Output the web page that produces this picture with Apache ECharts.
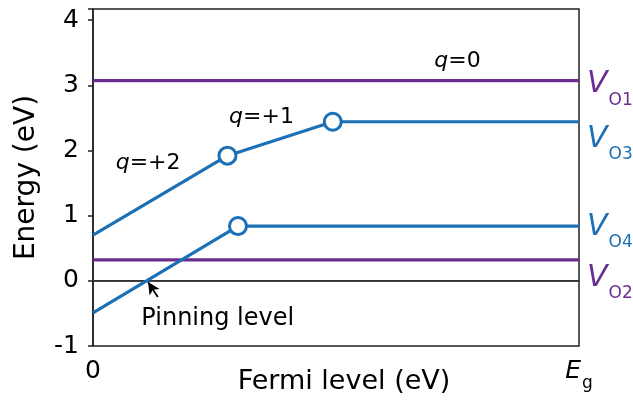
<!DOCTYPE html>
<html>
<head>
<meta charset="utf-8">
<script src="https://cdn.jsdelivr.net/npm/echarts@6/dist/echarts.min.js"></script>
<style>html,body{margin:0;padding:0;background:#fff;}#c{width:633px;height:400px;}</style>
</head>
<body>
<div id="c"></div>
<script>
// ---- data ----
var Eg = 3.0;                       // band gap end of Fermi-level axis (eV)
var xTicks = [0, Eg];               // shown x tick labels
var yTicks = [-1, 0, 1, 2, 3, 4];   // shown y tick labels
var VO1 = [[0, 3.07], [Eg, 3.07]];
var VO2 = [[0, 0.32], [Eg, 0.32]];
var VO3 = [[0, 0.70], [0.83, 1.92], [1.48, 2.44], [Eg, 2.44]];
var VO4 = [[0, -0.49], [0.895, 0.84], [Eg, 0.84]];
var zeroLine = [[0, 0], [Eg, 0]];
var chargeLabels = [
  { name: '+2', x: 0.34, y: 1.80 },
  { name: '+1', x: 1.04, y: 2.51 },
  { name: '0',  x: 2.25, y: 3.37 }
];
var pinning = { text: 'Pinning level', x: 0.77, y: -0.58, arrowFrom: [0.40, -0.25], arrowTo: [0.34, -0.02] };

var purple = '#6B2D90';
var blue = '#1B70B6';
var font = 'DejaVu Sans';

function vLabel(sub, color, off) {
  return {
    show: true,
    distance: 8,
    offset: off,
    formatter: '{v|V}{s|' + sub + '}',
    rich: {
      v: { fontFamily: font, fontSize: 30, fontStyle: 'italic', color: color, lineHeight: 30, verticalAlign: 'top' },
      s: { fontFamily: font, fontSize: 17, color: color, lineHeight: 17, padding: [22, 0, 0, 1], verticalAlign: 'top' }
    }
  };
}
function interiorSymbol(len) {
  return function (val, params) {
    return (params.dataIndex > 0 && params.dataIndex < len - 1) ? 'circle' : 'none';
  };
}

var chart = echarts.init(document.getElementById('c'), null, { renderer: 'canvas' });
chart.setOption({
  animation: false,
  grid: { left: 93, right: 54, top: 9, bottom: 54, outerBoundsMode: 'none', containLabel: false, show: true, borderColor: '#222', borderWidth: 1.5, backgroundColor: 'transparent' },
  xAxis: {
    type: 'value', min: 0, max: Eg, interval: Eg,
    name: 'Fermi level (eV)', nameLocation: 'middle', nameGap: 22, nameMoveOverlap: false,
    nameTextStyle: { fontFamily: font, fontSize: 27, color: '#000', padding: [0, 0, 0, 16], verticalAlign: 'top' },
    axisLine: { show: true, lineStyle: { color: '#222', width: 1.5 } },
    axisTick: { show: false },
    splitLine: { show: false },
    axisLabel: {
      margin: 13,
      fontFamily: font, fontSize: 25, color: '#000',
      formatter: function (v) {
        if (Math.abs(v - xTicks[0]) < 1e-9) return String(xTicks[0]);
        if (Math.abs(v - xTicks[1]) < 1e-9) return '{e|E}{g|g}';
        return '';
      },
      rich: {
        e: { fontFamily: font, fontSize: 25, fontStyle: 'italic', color: '#000', lineHeight: 25, verticalAlign: 'top' },
        g: { fontFamily: font, fontSize: 17, color: '#000', lineHeight: 17, padding: [16, 0, 0, 1], verticalAlign: 'top' }
      }
    }
  },
  yAxis: {
    type: 'value', min: -1, max: 4.17, interval: 1,
    name: 'Energy (eV)', nameLocation: 'middle', nameGap: 52, nameRotate: 90, nameMoveOverlap: false,
    nameTextStyle: { fontFamily: font, fontSize: 28, color: '#000' },
    axisLine: { show: true, lineStyle: { color: '#222', width: 1.5 } },
    axisTick: { show: true, length: 5, inside: false, lineStyle: { color: '#222', width: 1.5 } },
    splitLine: { show: false },
    axisLabel: {
      margin: 14, fontFamily: font, fontSize: 25, color: '#000',
      formatter: function (v) { return yTicks.indexOf(Math.round(v * 100) / 100) >= 0 ? String(v) : ''; }
    }
  },
  series: [
    {
      type: 'line', data: zeroLine, symbol: 'none', silent: true,
      lineStyle: { color: '#333', width: 1.5 },
      markLine: {
        silent: true, symbol: ['none', 'arrow'], symbolSize: [9, 12],
        label: { show: false },
        lineStyle: { color: '#000', width: 1.8, type: 'solid' },
        data: [[{ coord: pinning.arrowFrom }, { coord: pinning.arrowTo }]]
      }
    },
    { type: 'line', data: VO1, symbol: 'none', lineStyle: { color: purple, width: 3.2 }, itemStyle: { color: purple }, endLabel: vLabel('O1', purple, [0, 4]) },
    { type: 'line', data: VO2, symbol: 'none', lineStyle: { color: purple, width: 3.2 }, itemStyle: { color: purple }, endLabel: vLabel('O2', purple, [0, 18]) },
    {
      type: 'line', data: VO3, symbol: interiorSymbol(VO3.length), symbolSize: 17, showSymbol: true,
      lineStyle: { color: blue, width: 3.2 }, itemStyle: { color: '#fff', borderColor: blue, borderWidth: 3 },
      endLabel: vLabel('O3', blue, [0, 17])
    },
    {
      type: 'line', data: VO4, symbol: interiorSymbol(VO4.length), symbolSize: 17, showSymbol: true,
      lineStyle: { color: blue, width: 3.2 }, itemStyle: { color: '#fff', borderColor: blue, borderWidth: 3 },
      endLabel: vLabel('O4', blue, [0, 1])
    },
    {
      type: 'scatter', symbolSize: 1, itemStyle: { color: '#fff', opacity: 1 }, silent: true, z: 5,
      data: chargeLabels.map(function (d) { return { value: [d.x, d.y], name: d.name }; }),
      label: {
        show: true, position: 'inside', color: '#000',
        formatter: function (p) { return '{i|q}{n|=' + p.name + '}'; },
        rich: {
          i: { fontFamily: font, fontSize: 22, fontStyle: 'italic', color: '#000' },
          n: { fontFamily: font, fontSize: 22, color: '#000' }
        }
      }
    },
    {
      type: 'scatter', symbolSize: 1, itemStyle: { color: '#fff', opacity: 1 }, silent: true, z: 5,
      data: [{ value: [pinning.x, pinning.y], name: pinning.text }],
      label: { show: true, position: 'inside', formatter: '{b}', fontFamily: font, fontSize: 24, color: '#000' }
    }
  ]
});
</script>
</body>
</html>
